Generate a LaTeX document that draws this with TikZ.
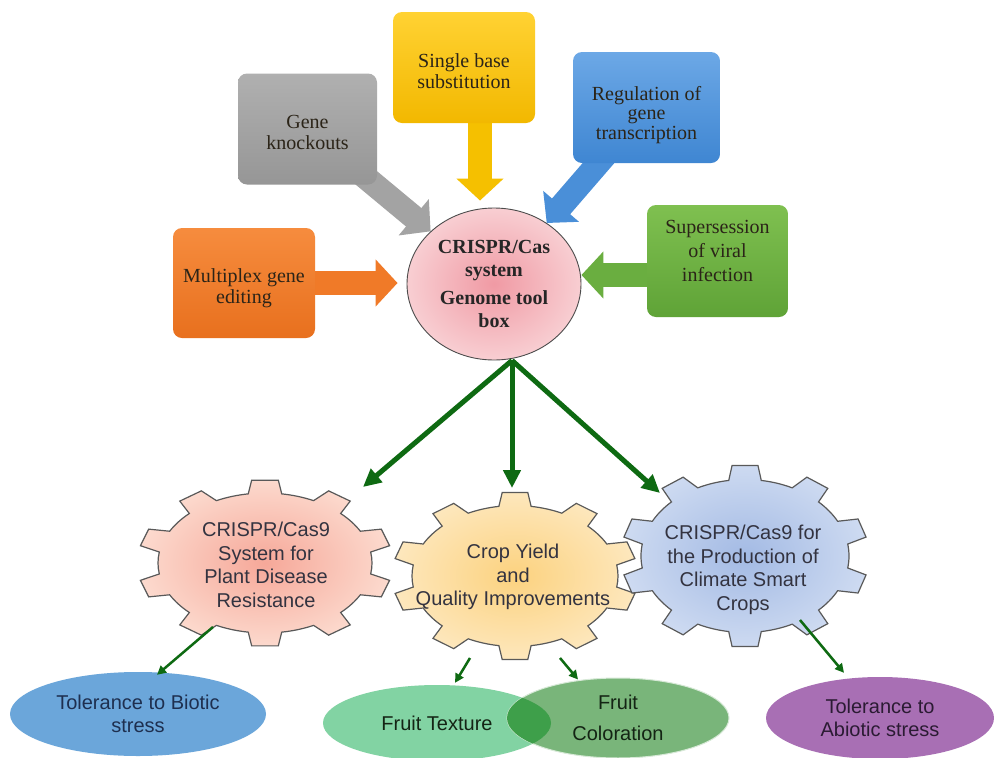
\documentclass[tikz,border=0pt]{standalone}
\usepackage{fontspec}
\setmainfont{Liberation Serif}
\newfontfamily\sansf{Liberation Sans}
\usetikzlibrary{arrows.meta,shapes.geometric}
\pgfdeclarelayer{back}
\pgfdeclarelayer{bg}
\pgfsetlayers{back,bg,main}
\definecolor{gkA}{HTML}{B0B0B0}\definecolor{gkB}{HTML}{969696}\definecolor{gkC}{HTML}{A3A3A3}
\definecolor{sbA}{HTML}{FFD233}\definecolor{sbB}{HTML}{F2B800}\definecolor{sbC}{HTML}{F5C000}
\definecolor{rgA}{HTML}{6CA8E6}\definecolor{rgB}{HTML}{3F86D2}\definecolor{rgC}{HTML}{4A8FD8}
\definecolor{mpA}{HTML}{F68C3E}\definecolor{mpB}{HTML}{E8701E}\definecolor{mpC}{HTML}{F07A28}
\definecolor{svA}{HTML}{7FC050}\definecolor{svB}{HTML}{5FA337}\definecolor{svC}{HTML}{6AAE40}
\definecolor{boxtext}{HTML}{2B2418}
\definecolor{cirA}{HTML}{F09AA4}\definecolor{cirB}{HTML}{F8CED2}
\definecolor{dkgreen}{HTML}{0E6A12}
\definecolor{g1A}{HTML}{F6A899}\definecolor{g1B}{HTML}{FCD9CD}
\definecolor{g2A}{HTML}{FCD27F}\definecolor{g2B}{HTML}{FDE7BC}
\definecolor{g3A}{HTML}{A3BAE4}\definecolor{g3B}{HTML}{CDDAF1}
\definecolor{geartext}{HTML}{333340}
\definecolor{bioblue}{HTML}{6BA6DA}\definecolor{biotext}{HTML}{1E2F4F}
\definecolor{texgreen}{HTML}{82D3A3}\definecolor{colgreen}{HTML}{79B57A}
\definecolor{lensgreen}{HTML}{3E9F4A}\definecolor{greentext}{HTML}{142414}
\definecolor{abipurple}{HTML}{A86FB4}\definecolor{abitext}{HTML}{2B1B33}
\newcommand\drawgear[6]{%
  \begin{scope}[shift={(#1,#2)},x={(#3pt,0pt)},y={(0pt,#4pt)}]
    \draw[gearline,inner color=#5,outer color=#6] (81:1)
      \foreach \a in {90,126,...,414}{ -- (\a-9:1) -- (\a-6:1.19) -- (\a+6:1.19) -- (\a+9:1)
        arc[start angle=\a+9,end angle=\a+27,radius=1]} -- cycle;
  \end{scope}}
\begin{document}
\begin{tikzpicture}[x=1pt,y=-1pt,
  boxn/.style={rectangle,rounded corners=9pt,minimum width=142pt,minimum height=111pt},
  boxt/.style={align=center,font=\fontsize{20}{21}\selectfont,text=boxtext},
  barrow/.style={line width=24pt,draw=#1,-{Triangle[width=46pt,length=22pt]}},
  gearline/.style={draw=black!65,line width=1.2pt},
  geartxt/.style={align=center,font=\sansf\fontsize{20}{23.5}\selectfont,text=geartext},
  mainarrow/.style={line width=5pt,draw=dkgreen,-{Triangle[width=17pt,length=18pt]}},
  smallarrow/.style={line width=2.5pt,draw=dkgreen,-{Triangle[width=9pt,length=9pt]}},
  ell/.style={ellipse,inner sep=0pt,align=center,font=\sansf\fontsize{20}{23}\selectfont}]
\begin{pgfonlayer}{back}
\fill[white] (0,0) rectangle (994,758);
\end{pgfonlayer}
\useasboundingbox (0,0) rectangle (994,758);

% top boxes
\node[boxn,minimum width=139pt,top color=gkA,bottom color=gkB] (gk) at (307.5,129) {};
\node[boxn,top color=sbA,bottom color=sbB] (sb) at (464,67.5) {};
\node[boxn,minimum width=147pt,top color=rgA,bottom color=rgB] (rg) at (646.5,107.5) {};
\node[boxn,minimum height=110pt,top color=mpA,bottom color=mpB] (mp) at (244,283) {};
\node[boxn,minimum width=141pt,minimum height=112pt,top color=svA,bottom color=svB] (sv) at (717.5,261) {};
\node[boxt] (gkt) at (307.5,132) {Gene\\knockouts};
\node[boxt] (sbt) at (464,71) {Single base\\substitution};
\node[boxt,font=\fontsize{20}{19.5}\selectfont] (rgt) at (646.5,115) {Regulation of\\gene\\transcription};
\node[boxt] (mpt) at (244,288) {Multiplex gene\\editing};
\node[boxt,font=\fontsize{20}{24}\selectfont] (svt) at (717.5,251) {Supersession\\of viral\\infection};

% central node
\node[ellipse,draw=black!70,line width=0.9pt,minimum width=174pt,minimum height=152pt,inner sep=0pt,
  inner color=cirA,outer color=cirB,align=center,font=\bfseries\fontsize{20}{23}\selectfont,text=black!85]
  (crispr) at (494,284) {CRISPR/Cas\\system\\[5pt]Genome tool\\box};

% block arrows
\begin{pgfonlayer}{bg}
\draw[barrow=gkC] (gk.center) -- (crispr);
\draw[barrow=sbC,shorten >=7pt] ([xshift=16pt]sb.center) -- ([xshift=16pt]sb.center |- crispr.north);
\draw[barrow=rgC] (rg.center) -- (crispr);
\draw[barrow=mpC,shorten >=9pt] (mp.center) -- (mp.center -| crispr.west);
\draw[barrow=svC] ([yshift=-14pt]sv.center) -- ([yshift=-14pt]sv.center -| crispr.east);
\end{pgfonlayer}

% gears
\drawgear{265}{563}{107}{70}{g1A}{g1B}
\drawgear{515}{576}{103}{70.5}{g2A}{g2B}
\drawgear{745}{556}{104}{76.5}{g3A}{g3B}
\node[geartxt] (g1) at (266,565) {CRISPR/Cas9\\System for\\Plant Disease\\Resistance};
\node[geartxt] (g2) at (513,577) {Crop Yield\\and\\Quality Improvements};
\node[geartxt] (g3) at (743,570) {CRISPR/Cas9 for\\the Production of\\Climate Smart\\Crops};

% main arrows
\coordinate (hub) at ([xshift=18pt]crispr.south);
\coordinate (g1top) at (363,487);
\coordinate (g2top) at (512,488);
\coordinate (g3top) at (660,493);
\draw[mainarrow] (hub) -- (g1top);
\draw[mainarrow] (hub) -- (g2top);
\draw[mainarrow] (hub) -- (g3top);

% bottom ellipses
\node[ell,fill=bioblue,text=biotext,minimum width=256pt,minimum height=84pt] (bio) at (138,714) {Tolerance to Biotic\\stress};
\node[ell,fill=texgreen,text=greentext,minimum width=228pt,minimum height=76pt] (tex) at (437,723) {Fruit Texture};
\node[ell,fill=colgreen,draw=white!70!colgreen,line width=1pt,text=greentext,minimum width=222pt,minimum height=80pt] (col) at (618,718) {Fruit\\[8pt]Coloration};
\begin{scope}
\clip (tex.center) ellipse [x radius=114pt,y radius=38pt];
\fill[lensgreen] (col.center) ellipse [x radius=111pt,y radius=40pt];
\end{scope}
\node[ell,fill=abipurple,text=abitext,minimum width=228pt,minimum height=82pt] (abi) at (880,718) {Tolerance to\\Abiotic stress};

% small arrows
\coordinate (g1out) at (213,627);
\coordinate (g2outa) at (470,658);
\coordinate (g2outb) at (560,658);
\coordinate (g3out) at (800,620);
\draw[smallarrow] (g1out) -- ([xshift=19pt,yshift=-3pt]bio.north);
\draw[smallarrow] (g2outa) -- ([xshift=18pt,yshift=2pt]tex.north);
\draw[smallarrow] (g2outb) -- ([xshift=-40pt,yshift=-2pt]col.north);
\draw[smallarrow] (g3out) -- ([xshift=-36pt,yshift=4pt]abi.north);
\end{tikzpicture}
\end{document}
